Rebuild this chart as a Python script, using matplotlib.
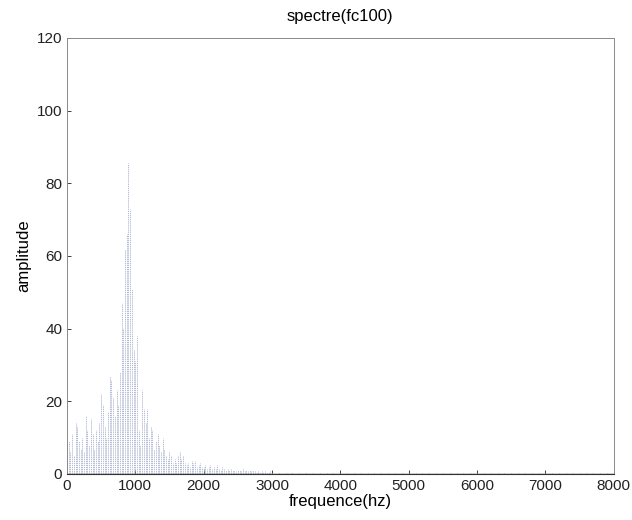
import numpy as np
import matplotlib
matplotlib.use("Agg")
import matplotlib.pyplot as plt

plt.rcParams["font.family"] = ["Liberation Sans", "DejaVu Sans"]

# spectrum bins (hz) and amplitudes
freq_main = np.arange(0, 3025, 25)
amp_main = [15, 9, 6, 11, 5, 14, 13, 9, 7, 10,
            6, 16, 12, 8, 15, 11, 7, 12, 9, 14,
            22, 19, 13, 10, 17, 27, 26, 21, 16, 23,
            19, 28, 47, 40, 62, 66, 85.5, 73, 51, 34,
            31, 38, 12, 8, 23, 18, 14, 18, 10, 13,
            12, 7, 9, 11, 8, 6, 10, 7, 5, 4,
            6, 5, 3, 4, 3, 5, 6, 4, 5, 3,
            2.5, 3, 2, 3.5, 3, 3.5, 2, 2.5, 3, 2,
            2, 2.5, 1.5, 2, 2.5, 1.5, 2, 1.5, 2.5, 1.5,
            1, 2, 1.5, 1, 1.5, 1, 1.5, 1, 1.2, 0.8,
            1, 1.2, 0.8, 1.5, 0.8, 1, 0.8, 1.2, 0.7, 1,
            0.8, 0.6, 0.9, 0.6, 0.8, 0.5, 0.7, 0.6, 0.5, 0.7,
            0.5]

freq_tail = np.arange(3100, 8000, 100)
amp_tail = [0.6, 0.4, 0.5, 0.3, 0.5, 0.4, 0.3, 0.4, 0.3, 0.4,
            0.3, 0.3, 0.4, 0.3, 0.2, 0.3, 0.3, 0.2, 0.3, 0.2,
            0.3, 0.2, 0.2, 0.3, 0.2, 0.2, 0.3, 0.2, 0.2, 0.2,
            0.3, 0.2, 0.2, 0.2, 0.2, 0.3, 0.2, 0.2, 0.2, 0.2,
            0.2, 0.2, 0.2, 0.3, 0.2, 0.2, 0.2, 0.2, 0.2]

freq = np.concatenate([freq_main, freq_tail])
amp = np.concatenate([amp_main, amp_tail])

fig = plt.figure(figsize=(6.32, 5.2), dpi=100)
ax = fig.add_axes([0.106, 0.0885, 0.865, 0.8385])

ax.vlines(freq, 0, amp, color="#a9b1cc", linewidth=0.6, linestyles=(0, (1.5, 1)))
ax.axhline(0, color="#333333", linewidth=1.0)

ax.set_xlim(0, 8000)
ax.set_ylim(0, 120)
ax.set_xticks(np.arange(0, 8001, 1000))
ax.set_yticks(np.arange(0, 121, 20))
ax.tick_params(direction="in", length=3, labelsize=11, colors="#222222", width=0.6)

for s in ["top", "left", "right"]:
    ax.spines[s].set_color("#8a8a8a")
    ax.spines[s].set_linewidth(0.7)
    ax.spines[s].set_linestyle((0, (2, 1)))
ax.spines["bottom"].set_color("#333333")

ax.set_title("spectre(fc100)", fontsize=12, pad=12)
ax.set_xlabel("frequence(hz)", fontsize=12, labelpad=1)
ax.set_ylabel("amplitude", fontsize=12, labelpad=4)

fig.savefig("out.png", dpi=100)
